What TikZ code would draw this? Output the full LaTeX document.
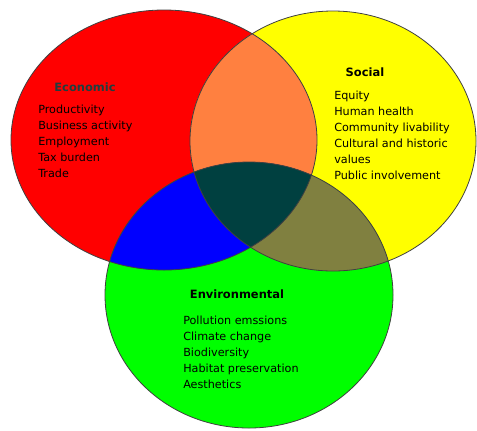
\documentclass[tikz,border=0pt]{standalone}
\usepackage{fontspec}
\setmainfont{DejaVu Sans}
\usepackage{xcolor}
\definecolor{econred}{HTML}{FF0000}
\definecolor{socyellow}{HTML}{FFFF00}
\definecolor{envgreen}{HTML}{00FF00}
\definecolor{econsoc}{HTML}{FF8040}
\definecolor{econenv}{HTML}{0000FF}
\definecolor{socenv}{HTML}{808040}
\definecolor{allthree}{HTML}{004040}
\definecolor{titleslate}{HTML}{1F3F3F}

\begin{document}
\begin{tikzpicture}[x=0.75pt,y=0.75pt,yscale=-1,xscale=1,
    outline/.style={draw=black!75,line width=0.6pt},
    title/.style={font=\bfseries\fontsize{8.6}{10}\selectfont,inner sep=0.75pt},
    items/.style={anchor=north west,align=left,inner sep=0pt,font=\fontsize{8.4}{12}\selectfont}]
        \useasboundingbox (0,0) rectangle (477,430);

        %Shape: Ellipse [id:economic]
        \fill[econred] (164,140) ellipse (153 and 130);
        %Shape: Ellipse [id:social]
        \fill[socyellow] (333,141) ellipse (143 and 130);
        %Shape: Ellipse [id:environmental]
        \fill[envgreen] (249,295) ellipse (144 and 133);

        %Overlap economic and social
        \begin{scope}
            \clip (164,140) ellipse (153 and 130);
            \fill[econsoc] (333,141) ellipse (143 and 130);
        \end{scope}
        %Overlap economic and environmental
        \begin{scope}
            \clip (164,140) ellipse (153 and 130);
            \fill[econenv] (249,295) ellipse (144 and 133);
        \end{scope}
        %Overlap social and environmental
        \begin{scope}
            \clip (333,141) ellipse (143 and 130);
            \fill[socenv] (249,295) ellipse (144 and 133);
        \end{scope}
        %Overlap of all three
        \begin{scope}
            \clip (164,140) ellipse (153 and 130);
            \clip (333,141) ellipse (143 and 130);
            \fill[allthree] (249,295) ellipse (144 and 133);
        \end{scope}

        %Outlines
        \draw[outline] (164,140) ellipse (153 and 130);
        \draw[outline] (333,141) ellipse (143 and 130);
        \draw[outline] (249,295) ellipse (144 and 133);

        % Text Node
        \node[title,text=titleslate] (econtitle) at (85,87) {Economic};
        % Text Node
        \node[items] (econitems) at (38,104.5) {Productivity\\Business activity\\Employment\\Tax burden\\Trade};
        % Text Node
        \node[title] (soctitle) at (365,72) {Social};
        % Text Node
        \node[items] (socitems) at (334,91) {Equity\\Human health\\Community livability\\Cultural and historic\\values\\Public involvement};
        % Text Node
        \node[title] (envtitle) at (237,294) {Environmental};
        % Text Node
        \node[items] (envitems) at (183,316) {Pollution emssions\\Climate change\\Biodiversity\\Habitat preservation\\Aesthetics};

    \end{tikzpicture}
\end{document}
